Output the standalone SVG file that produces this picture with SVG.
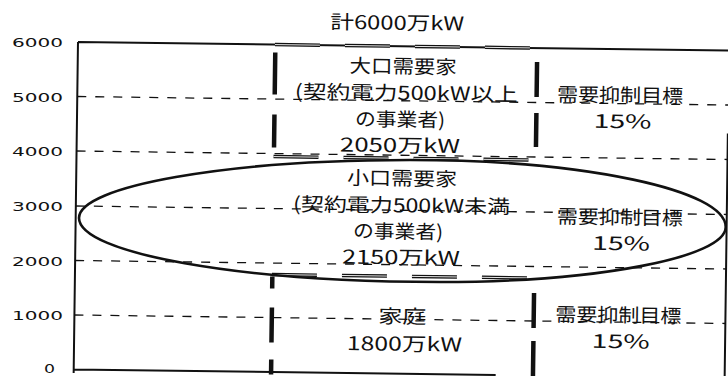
<svg xmlns="http://www.w3.org/2000/svg" width="728" height="376" viewBox="0 0 728 376">
<style>
 .t{font-family:"Noto Sans CJK JP","Noto Sans",sans-serif;font-size:19px;fill:#111;text-anchor:middle}
 .ax{font-family:"DejaVu Sans","Noto Sans",sans-serif;font-size:13px;fill:#111}
 .grid{stroke:#111;stroke-width:1.3;stroke-dasharray:9 9;fill:none}
 .frame{stroke:#111;stroke-width:2;fill:none}
 .div{stroke:#111;stroke-width:4.5;fill:none}
 .hatch{stroke:#111;stroke-width:3.5;stroke-dasharray:45 25;fill:none}
 .hatchw{stroke:#fff;stroke-width:0.9;stroke-dasharray:45 25;fill:none}
 .oval{stroke:#111;stroke-width:2.6;fill:none}
</style>
<rect width="728" height="376" fill="#fff"/>
<g id="axis-labels" class="ax">
 <text x="12" y="47" textLength="51" lengthAdjust="spacingAndGlyphs">6000</text>
 <text x="12" y="101.5" textLength="51" lengthAdjust="spacingAndGlyphs">5000</text>
 <text x="12" y="156" textLength="51" lengthAdjust="spacingAndGlyphs">4000</text>
 <text x="12" y="211" textLength="51" lengthAdjust="spacingAndGlyphs">3000</text>
 <text x="12" y="265.5" textLength="51" lengthAdjust="spacingAndGlyphs">2000</text>
 <text x="12" y="320" textLength="51" lengthAdjust="spacingAndGlyphs">1000</text>
 <text x="44" y="373" textLength="11" lengthAdjust="spacingAndGlyphs">0</text>
</g>
<g transform="rotate(0.75 78 41)">
 <g id="frame">
  <path class="frame" d="M78 42H735M78 42V373M77 369.5H500M729 125V385"/>
 </g>
 <g id="gridlines">
  <path class="grid" d="M78 96.5H729M78 151H729M78 206H729M78 260.5H729M78 315H729"/>
 </g>
 <g id="bar">
  <path class="div" d="M275.4 50V92M275.4 112V145M275.4 274V286M275.4 305V340M275.4 357V372M537.3 56V91M537.3 107V141M537.3 287V322M537.3 335V372"/>
  <path class="hatch" d="M275 42H537M275 154H537M275 272H537"/>
  <path class="hatchw" d="M275 42H537M275 154H537M275 272H537"/>
 </g>
 <g id="title"><text class="t" x="397" y="25.5" textLength="134" lengthAdjust="spacingAndGlyphs">計6000万kW</text></g>
 <g id="large-users">
  <text class="t" x="403.5" y="69" textLength="107" lengthAdjust="spacingAndGlyphs">大口需要家</text>
  <text class="t" x="407" y="95.5" textLength="223" lengthAdjust="spacingAndGlyphs">(契約電力500kW以上</text>
  <text class="t" x="401" y="122" textLength="90" lengthAdjust="spacingAndGlyphs">の事業者)</text>
  <text class="t" x="401.3" y="148" textLength="120" lengthAdjust="spacingAndGlyphs">2050万kW</text>
 </g>
 <g id="small-users">
  <text class="t" x="403.8" y="181" textLength="110" lengthAdjust="spacingAndGlyphs">小口需要家</text>
  <text class="t" x="403.7" y="208" textLength="217" lengthAdjust="spacingAndGlyphs">(契約電力500kW未満</text>
  <text class="t" x="400.5" y="234" textLength="90" lengthAdjust="spacingAndGlyphs">の事業者)</text>
  <text class="t" x="403.8" y="260" textLength="118" lengthAdjust="spacingAndGlyphs">2150万kW</text>
 </g>
 <g id="households">
  <text class="t" x="406" y="319" textLength="48" lengthAdjust="spacingAndGlyphs">家庭</text>
  <text class="t" x="408.4" y="346.5" textLength="115" lengthAdjust="spacingAndGlyphs">1800万kW</text>
 </g>
 <g id="target-large">
  <text class="t" x="620.7" y="95" textLength="126" lengthAdjust="spacingAndGlyphs">需要抑制目標</text>
  <text class="t" x="623.5" y="121" textLength="58" lengthAdjust="spacingAndGlyphs">15%</text>
 </g>
 <g id="target-small">
  <text class="t" x="622" y="217" textLength="126" lengthAdjust="spacingAndGlyphs">需要抑制目標</text>
  <text class="t" x="623.6" y="243" textLength="58" lengthAdjust="spacingAndGlyphs">15%</text>
 </g>
 <g id="target-home">
  <text class="t" x="622" y="315" textLength="126" lengthAdjust="spacingAndGlyphs">需要抑制目標</text>
  <text class="t" x="624.6" y="341" textLength="58" lengthAdjust="spacingAndGlyphs">15%</text>
 </g>
</g>
<g id="connectors">
 <path id="small-users-oval" class="oval" d="M79 218C79 186 227 160 410 160C584.4 160 725.7 190 725.7 227C725.7 257.4 597.8 282 440 282C240.6 282 79 253.3 79 218Z"/>
</g>
</svg>
